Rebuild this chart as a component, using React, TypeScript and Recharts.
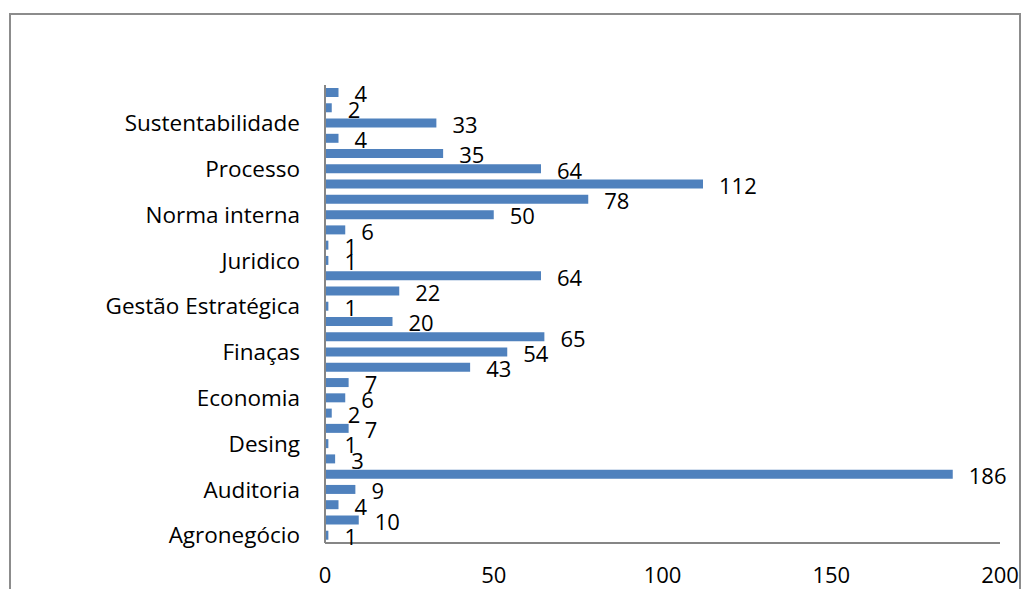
import { Bar, BarChart, LabelList, XAxis, YAxis } from "recharts";

// listed bottom-to-top, the way the axis reads
const categorias = [
  "Agronegócio", "Ambiental", "Atendimento",
  "Auditoria", "Comercial", "Contabilidade",
  "Desing", "Direito", "Documentação",
  "Economia", "Educação", "Engenharia",
  "Finaças", "Fiscal", "Gestão de Pessoas",
  "Gestão Estratégica", "Governança", "Inovação",
  "Juridico", "Logística", "Marketing",
  "Norma interna", "Operações", "Planejamento",
  "Processo", "Qualidade", "Riscos",
  "Sustentabilidade", "Tecnologia", "Treinamento",
];

const quantidades = [
  1, 10, 4,
  9, 186, 3,
  1, 7, 2,
  6, 7, 43,
  54, 65, 20,
  1, 22, 64,
  1, 1, 6,
  50, 78, 112,
  64, 35, 4,
  33, 2, 4,
];

const eixoX = [0, 50, 100, 150, 200];

const data = categorias.map((name, i) => ({ name, qtd: quantidades[i] }));

const fonte = "'Open Sans', 'Liberation Sans', sans-serif";

const TemasChart = () => {
  return (
    <div style={{ position: "absolute", left: 0, top: 0, width: 1025, height: 589, overflow: "hidden", background: "#fff" }}>
      <div
        style={{
          position: "absolute",
          left: 9,
          top: 13,
          width: 1012,
          height: 600,
          border: "2px solid #8c8c8c",
          boxSizing: "border-box",
        }}
      />
      <BarChart
        width={1025}
        height={589}
        data={data}
        layout="vertical"
        margin={{ top: 85, right: 25, left: 0, bottom: 0 }}
        barSize={9}
        style={{ position: "absolute", left: 0, top: 0 }}
      >
        <XAxis
          type="number"
          domain={[0, 200]}
          ticks={eixoX}
          height={46}
          axisLine={{ stroke: "#868686", strokeWidth: 2 }}
          tickLine={false}
          tickSize={0}
          tickMargin={24}
          tick={{ fill: "#000", fontSize: 22, fontFamily: fonte }}
        />
        <YAxis
          type="category"
          dataKey="name"
          reversed
          interval={2}
          width={325}
          axisLine={{ stroke: "#868686", strokeWidth: 2 }}
          tickLine={false}
          tickSize={0}
          tickMargin={25}
          tick={{ fill: "#000", fontSize: 22.5, fontFamily: fonte }}
        />
        <Bar dataKey="qtd" fill="#4F81BD" isAnimationActive={false}>
          <LabelList
            dataKey="qtd"
            position="right"
            offset={16}
            dy={2}
            fill="#000"
            fontSize={22}
            fontFamily={fonte}
          />
        </Bar>
      </BarChart>
    </div>
  );
};

export default function App() {
  return <TemasChart />;
}
